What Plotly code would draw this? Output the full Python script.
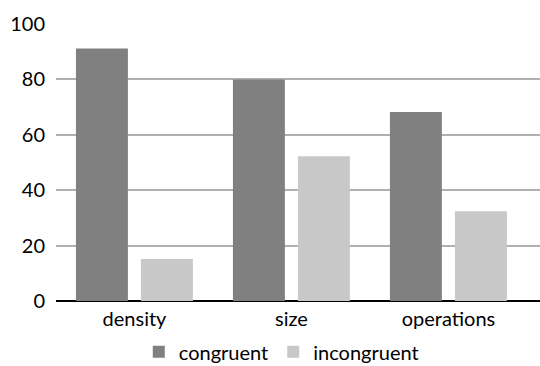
import plotly.graph_objects as go

categories = ["density", "size", "operations"]
congruent = [91.2, 80, 68.2]
incongruent = [15.2, 52.3, 32.4]
y_ticks = [0, 20, 40, 60, 80, 100]

fig = go.Figure()
fig.add_trace(go.Bar(name="congruent", x=categories, y=congruent,
                     marker=dict(color="#808080", line=dict(width=0)),
                     width=0.331, offset=-0.373))
fig.add_trace(go.Bar(name="incongruent", x=categories, y=incongruent,
                     marker=dict(color="#c8c8c8", line=dict(width=0)),
                     width=0.331, offset=0.041))

font = dict(family="Lato, Open Sans, sans-serif", size=20, color="#000000")
fig.update_layout(
    width=540, height=366,
    margin=dict(l=56, r=0, t=24, b=65, autoexpand=False),
    paper_bgcolor="white", plot_bgcolor="white",
    font=font,
    barmode="group",
    showlegend=True,
    legend=dict(orientation="h", xref="container", yref="container",
                x=0.257, xanchor="left", y=0.092, yanchor="top",
                bgcolor="rgba(0,0,0,0)",
                font=dict(size=20), itemwidth=30, traceorder="normal"),
    xaxis=dict(type="category", range=[-0.5, 2.583], showgrid=False,
               showline=False, ticks="", tickfont=font, automargin=False,
               ticklabelstandoff=4),
    yaxis=dict(range=[0, 100], tickvals=y_ticks, showgrid=True,
               gridcolor="#b0b0b0", gridwidth=1.5, zeroline=True,
               zerolinecolor="#000000", zerolinewidth=1.5,
               showline=False, ticks="", tickfont=font, ticklen=0,
               ticklabelstandoff=10, automargin=False),
)
fig.write_html("out.html", config={"displayModeBar": False},
               post_script="document.body.style.margin='0';document.body.style.padding='0';")
